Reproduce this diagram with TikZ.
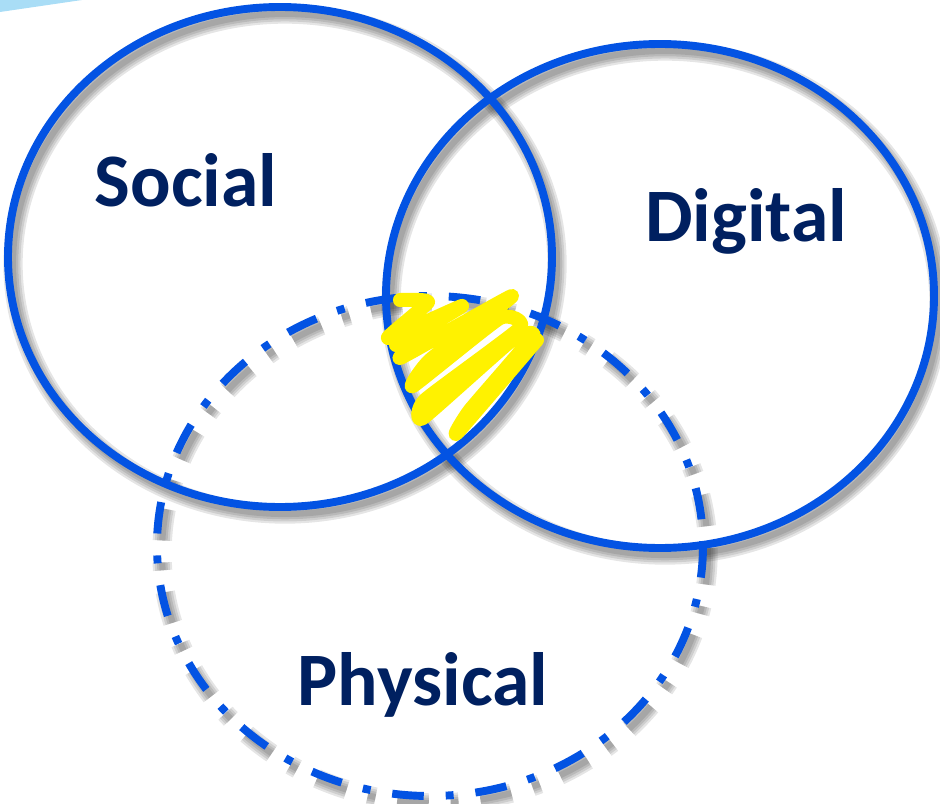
\documentclass[tikz,border=0pt]{standalone}
\usepackage{fontspec}
\setmainfont{Carlito}
\usepackage{xcolor}
\usepackage{tikz}

\definecolor{ringblue}{HTML}{0353E3}
\definecolor{labelnavy}{HTML}{002060}
\definecolor{streakblue}{HTML}{A9DDF6}

\tikzset{
  ring/.style={draw=ringblue, line width=4.5pt},
  dashring/.style={ring, dash pattern=on 18pt off 12.5pt on 4.5pt off 12.5pt},
  ringshade/.style={draw=black, opacity=0.1, line width=#1},
  label/.style={font=\fontsize{43}{50}\selectfont\bfseries, text=labelnavy, anchor=base, inner sep=0pt},
  scribble/.style={draw=yellow, line width=8pt, line cap=round, line join=round},
}

\begin{document}
\begin{tikzpicture}[x=0.02cm, y=-0.02cm]
    \useasboundingbox (0,0) rectangle (940,804);

    % Coordinates
    \coordinate (S) at (280,257);
    \coordinate (D) at (660,296);
    \coordinate (P) at (430,546);

    % light streak in the corner
    \fill[streakblue] (0,0) -- (82,0) -- (0,12) -- cycle;

    % soft shadows under the rings
    \foreach \w in {11pt,8.5pt,6pt,3.5pt} {
      \draw[ringshade=\w] ([shift={(5,7)}]S) ellipse [x radius=272, y radius=250];
      \draw[ringshade=\w] ([shift={(5,7)}]D) ellipse [x radius=274, y radius=252];
      \draw[ringshade=\w, dash pattern=on 18pt off 12.5pt on 4.5pt off 12.5pt]
        ([shift={(5,7)}]P) ellipse [x radius=273, y radius=250];
    }

    % the three rings
    \draw[dashring] (P) ellipse [x radius=273, y radius=250];
    \draw[ring] (S) ellipse [x radius=272, y radius=250];
    \draw[ring] (D) ellipse [x radius=274, y radius=252];

    % yellow scribble in the middle
    \draw[scribble] plot[smooth, tension=0.3] coordinates {
      (400,300) (428,302) (388,338) (462,306) (396,345) (440,322)
      (400,358) (512,296) (430,360) (413,386) (500,318) (520,328)
      (425,400) (423,418) (512,340) (533,336) (470,410) (457,433)
      (537,340)};

    % labels
    \node[label] (social) at (186,207) {Social};
    \node[label] (digital) at (746,242) {Digital};
    \node[label] (physical) at (423,705) {Physical};

\end{tikzpicture}
\end{document}
